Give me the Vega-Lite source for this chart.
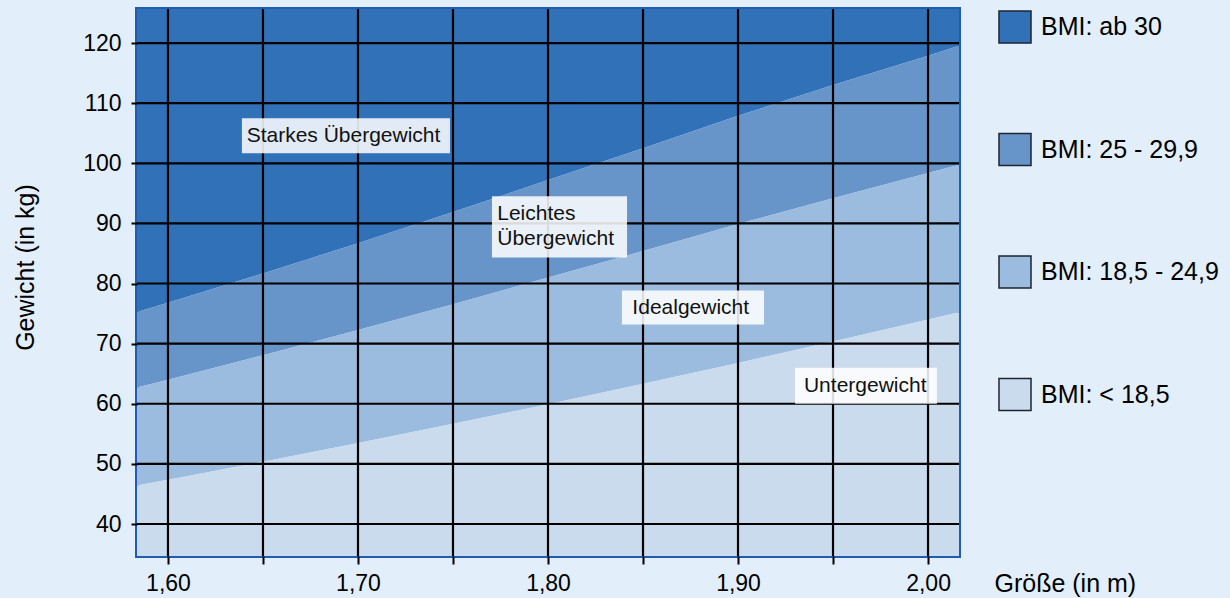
{
  "$schema": "https://vega.github.io/schema/vega-lite/v6.json",
  "width": 822,
  "height": 547,
  "autosize": {"type": "none"},
  "padding": {"left": 137, "top": 9, "right": 271, "bottom": 42},
  "background": "#e2eef9",
  "config": {
    "view": {"stroke": "#1f5db0", "strokeWidth": 4},
    "font": "Liberation Sans",
    "axis": {"labelFont": "Liberation Sans", "titleFont": "Liberation Sans"},
    "legend": {"labelFont": "Liberation Sans"}
  },
  "datasets": {
    "bands": [
      {"h": 1.55, "band": "BMI: ab 30", "lo": 72.08, "hi": 130},
      {"h": 1.60, "band": "BMI: ab 30", "lo": 76.8, "hi": 130},
      {"h": 1.65, "band": "BMI: ab 30", "lo": 81.68, "hi": 130},
      {"h": 1.70, "band": "BMI: ab 30", "lo": 86.7, "hi": 130},
      {"h": 1.75, "band": "BMI: ab 30", "lo": 91.88, "hi": 130},
      {"h": 1.80, "band": "BMI: ab 30", "lo": 97.2, "hi": 130},
      {"h": 1.85, "band": "BMI: ab 30", "lo": 102.5, "hi": 130},
      {"h": 1.90, "band": "BMI: ab 30", "lo": 107.9, "hi": 130},
      {"h": 1.95, "band": "BMI: ab 30", "lo": 113.0, "hi": 130},
      {"h": 2.00, "band": "BMI: ab 30", "lo": 117.9, "hi": 130},
      {"h": 2.05, "band": "BMI: ab 30", "lo": 123.0, "hi": 130},
      {"h": 1.55, "band": "BMI: 25 - 29,9", "lo": 60.06, "hi": 72.08},
      {"h": 1.60, "band": "BMI: 25 - 29,9", "lo": 64.0, "hi": 76.8},
      {"h": 1.65, "band": "BMI: 25 - 29,9", "lo": 68.06, "hi": 81.68},
      {"h": 1.70, "band": "BMI: 25 - 29,9", "lo": 72.25, "hi": 86.7},
      {"h": 1.75, "band": "BMI: 25 - 29,9", "lo": 76.56, "hi": 91.88},
      {"h": 1.80, "band": "BMI: 25 - 29,9", "lo": 81.0, "hi": 97.2},
      {"h": 1.85, "band": "BMI: 25 - 29,9", "lo": 85.4, "hi": 102.5},
      {"h": 1.90, "band": "BMI: 25 - 29,9", "lo": 89.9, "hi": 107.9},
      {"h": 1.95, "band": "BMI: 25 - 29,9", "lo": 94.2, "hi": 113.0},
      {"h": 2.00, "band": "BMI: 25 - 29,9", "lo": 98.4, "hi": 117.9},
      {"h": 2.05, "band": "BMI: 25 - 29,9", "lo": 102.6, "hi": 123.0},
      {"h": 1.55, "band": "BMI: 18,5 - 24,9", "lo": 44.46, "hi": 60.06},
      {"h": 1.60, "band": "BMI: 18,5 - 24,9", "lo": 47.36, "hi": 64.0},
      {"h": 1.65, "band": "BMI: 18,5 - 24,9", "lo": 50.37, "hi": 68.06},
      {"h": 1.70, "band": "BMI: 18,5 - 24,9", "lo": 53.47, "hi": 72.25},
      {"h": 1.75, "band": "BMI: 18,5 - 24,9", "lo": 56.66, "hi": 76.56},
      {"h": 1.80, "band": "BMI: 18,5 - 24,9", "lo": 59.94, "hi": 81.0},
      {"h": 1.85, "band": "BMI: 18,5 - 24,9", "lo": 63.32, "hi": 85.4},
      {"h": 1.90, "band": "BMI: 18,5 - 24,9", "lo": 66.79, "hi": 89.9},
      {"h": 1.95, "band": "BMI: 18,5 - 24,9", "lo": 70.35, "hi": 94.2},
      {"h": 2.00, "band": "BMI: 18,5 - 24,9", "lo": 74.0, "hi": 98.4},
      {"h": 2.05, "band": "BMI: 18,5 - 24,9", "lo": 77.75, "hi": 102.6},
      {"h": 1.55, "band": "BMI: < 18,5", "lo": 30, "hi": 44.46},
      {"h": 1.60, "band": "BMI: < 18,5", "lo": 30, "hi": 47.36},
      {"h": 1.65, "band": "BMI: < 18,5", "lo": 30, "hi": 50.37},
      {"h": 1.70, "band": "BMI: < 18,5", "lo": 30, "hi": 53.47},
      {"h": 1.75, "band": "BMI: < 18,5", "lo": 30, "hi": 56.66},
      {"h": 1.80, "band": "BMI: < 18,5", "lo": 30, "hi": 59.94},
      {"h": 1.85, "band": "BMI: < 18,5", "lo": 30, "hi": 63.32},
      {"h": 1.90, "band": "BMI: < 18,5", "lo": 30, "hi": 66.79},
      {"h": 1.95, "band": "BMI: < 18,5", "lo": 30, "hi": 70.35},
      {"h": 2.00, "band": "BMI: < 18,5", "lo": 30, "hi": 74.0},
      {"h": 2.05, "band": "BMI: < 18,5", "lo": 30, "hi": 77.75}
    ],
    "labels": [
      {"label": "Starkes Übergewicht", "x1": 1.6389, "x2": 1.7484, "y1": 101.67, "y2": 107.5, "tx": 1.6414, "ty": 104.6},
      {"label": "Leichtes\nÜbergewicht", "x1": 1.7705, "x2": 1.8416, "y1": 84.33, "y2": 94.5, "tx": 1.7733, "ty": 91.5},
      {"label": "Idealgewicht", "x1": 1.8389, "x2": 1.9137, "y1": 73.17, "y2": 78.83, "tx": 1.8444, "ty": 76.0},
      {"label": "Untergewicht", "x1": 1.93, "x2": 2.0047, "y1": 60.0, "y2": 66.0, "tx": 1.9347, "ty": 63.0}
    ]
  },
  "layer": [
    {
      "data": {"name": "bands"},
      "mark": {"type": "area", "clip": true, "opacity": 1},
      "encoding": {
        "x": {
          "field": "h", "type": "quantitative",
          "scale": {"domain": [1.5837, 2.0163], "nice": false, "zero": false},
          "axis": {
            "title": "Größe (in m)",
            "values": [1.6, 1.65, 1.7, 1.75, 1.8, 1.85, 1.9, 1.95, 2.0],
            "labelExpr": "round(datum.value*100) % 10 == 0 ? replace(format(datum.value, '.2f'), '.', ',') : ''",
            "grid": false, "domain": false,
            "ticks": true, "tickColor": "#000000", "tickWidth": 2, "tickSize": 8,
            "labelFontSize": 23, "labelColor": "#000000", "labelPadding": 8,
            "labelFlush": false, "labelOverlap": false,
            "titleFontSize": 25, "titleFontWeight": "normal", "titleColor": "#000000",
            "titleX": 857, "titleY": 27, "titleAlign": "left", "titleBaseline": "middle",
            "zindex": 1
          }
        },
        "y": {
          "field": "lo", "type": "quantitative",
          "scale": {"domain": [34.68, 125.66], "nice": false, "zero": false},
          "axis": {
            "title": "Gewicht (in kg)",
            "values": [40, 50, 60, 70, 80, 90, 100, 110, 120],
            "format": "d",
            "grid": false, "domain": false,
            "ticks": true, "tickColor": "#000000", "tickWidth": 2, "tickSize": 6,
            "labelFontSize": 23, "labelColor": "#000000", "labelPadding": 10,
            "labelFlush": false, "labelOverlap": false,
            "titleFontSize": 25, "titleFontWeight": "normal", "titleColor": "#000000",
            "titleX": -112, "titleY": 258, "titleAlign": "center", "titleBaseline": "middle",
            "zindex": 1
          }
        },
        "y2": {"field": "hi"},
        "color": {
          "field": "band", "type": "nominal",
          "scale": {
            "domain": ["BMI: ab 30", "BMI: 25 - 29,9", "BMI: 18,5 - 24,9", "BMI: < 18,5"],
            "range": ["#3171b8", "#6795c9", "#9bbcdf", "#cbdbee"]
          },
          "legend": {
            "title": null, "orient": "none", "legendX": 861, "legendY": 1,
            "symbolType": "square", "symbolSize": 1024,
            "symbolStrokeColor": "#1c2530", "symbolStrokeWidth": 1.5, "symbolOpacity": 1,
            "labelFontSize": 25, "labelColor": "#000000", "labelOffset": 9,
            "rowPadding": 84.5, "padding": 0, "labelLimit": 400
          }
        }
      }
    },
    {
      "data": {"values": [{"g": 1.6}, {"g": 1.65}, {"g": 1.7}, {"g": 1.75}, {"g": 1.8}, {"g": 1.85}, {"g": 1.9}, {"g": 1.95}, {"g": 2.0}]},
      "mark": {"type": "rule", "color": "#000000", "strokeWidth": 2.2},
      "encoding": {"x": {"field": "g", "type": "quantitative"}}
    },
    {
      "data": {"values": [{"k": 40}, {"k": 50}, {"k": 60}, {"k": 70}, {"k": 80}, {"k": 90}, {"k": 100}, {"k": 110}, {"k": 120}]},
      "mark": {"type": "rule", "color": "#000000", "strokeWidth": 2.2},
      "encoding": {"y": {"field": "k", "type": "quantitative"}}
    },
    {
      "data": {"name": "labels"},
      "mark": {"type": "rect", "fill": "#ffffff", "opacity": 0.86},
      "encoding": {
        "x": {"field": "x1", "type": "quantitative"},
        "x2": {"field": "x2"},
        "y": {"field": "y1", "type": "quantitative"},
        "y2": {"field": "y2"}
      }
    },
    {
      "data": {"name": "labels"},
      "mark": {"type": "text", "align": "left", "baseline": "middle", "fontSize": 21, "lineBreak": "\n", "lineHeight": 25, "color": "#111111", "font": "Liberation Sans"},
      "encoding": {
        "x": {"field": "tx", "type": "quantitative"},
        "y": {"field": "ty", "type": "quantitative"},
        "text": {"field": "label"}
      }
    }
  ]
}
